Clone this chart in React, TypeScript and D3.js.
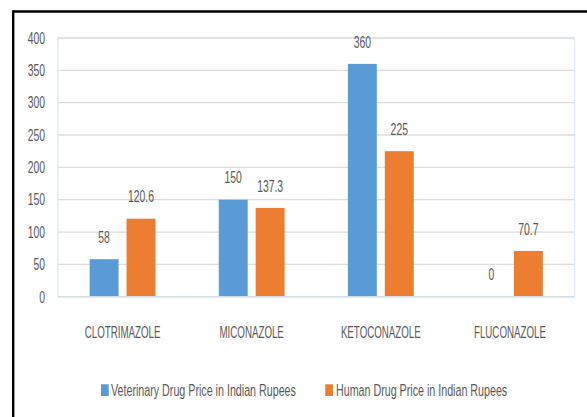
import React from "react";
import * as d3 from "d3";

const categories = ["CLOTRIMAZOLE", "MICONAZOLE", "KETOCONAZOLE", "FLUCONAZOLE"];
const seriesNames = [
  "Veterinary Drug Price in Indian Rupees",
  "Human Drug Price in Indian Rupees",
];
const veterinary = [58, 150, 360, 0];
const human = [120.6, 137.3, 225, 70.7];
const valueLabels = [
  ["58", "150", "360", "0"],
  ["120.6", "137.3", "225", "70.7"],
];
const yTicks = [0, 50, 100, 150, 200, 250, 300, 350, 400];
const colors = ["#5B9BD5", "#ED7D31"];

const W = 587;
const H = 417;
const plot = { left: 58, right: 574.5, top: 38, bottom: 296.7 };
const textColor = "#595959";
const font = "'Liberation Sans', Arial, sans-serif";

function SqText({ x, y, anchor = "middle", size = 15, sx = 0.65, children }: any) {
  return (
    <text
      transform={`translate(${x},${y}) scale(${sx},1)`}
      textAnchor={anchor}
      fontSize={size}
      fill={textColor}
      fontFamily={font}
    >
      {children}
    </text>
  );
}

export default function App() {
  const y = d3.scaleLinear().domain([0, 400]).range([plot.bottom, plot.top]);
  const x0 = d3
    .scaleBand<string>()
    .domain(categories)
    .range([plot.left, plot.right])
    .paddingInner(0.49)
    .paddingOuter(0.245);
  const x1 = d3
    .scaleBand<string>()
    .domain(seriesNames)
    .range([0, x0.bandwidth()])
    .paddingInner(0.216);
  const data = [veterinary, human];
  const catCenter = (c: string) => (x0(c) as number) + x0.bandwidth() / 2;

  return (
    <svg
      width={W}
      height={H}
      style={{ position: "absolute", left: 0, top: 0, background: "#fff" }}
    >
      {/* outer frame (top and left) */}
      <line x1={13.2} y1={11.5} x2={W} y2={11.5} stroke="#000" strokeWidth={2.4} />
      <line x1={13.2} y1={10.3} x2={13.2} y2={H} stroke="#000" strokeWidth={2.4} />

      {/* plot area border */}
      <rect
        x={plot.left}
        y={plot.top}
        width={plot.right - plot.left}
        height={plot.bottom - plot.top}
        fill="#fff"
        stroke="#E4EEF8"
        strokeWidth={1.5}
      />

      {/* gridlines */}
      {yTicks.slice(1).map((t) => (
        <line
          key={t}
          x1={plot.left}
          x2={plot.right}
          y1={y(t)}
          y2={y(t)}
          stroke="#DDDDDD"
          strokeWidth={1.3}
        />
      ))}

      {/* y tick labels */}
      {yTicks.map((t) => (
        <SqText key={t} x={45} y={y(t) + 5.8} anchor="end" size={16} sx={0.65}>
          {t}
        </SqText>
      ))}

      {/* bars */}
      {data.map((vals, si) =>
        vals.map((v, ci) => {
          const bx = (x0(categories[ci]) as number) + (x1(seriesNames[si]) as number);
          return (
            <g key={`${si}-${ci}`}>
              {v > 0 && (
                <rect
                  x={bx}
                  y={y(v)}
                  width={x1.bandwidth()}
                  height={y(0) - y(v)}
                  fill={colors[si]}
                />
              )}
              <SqText x={bx + x1.bandwidth() / 2} y={y(v) - 16.3} size={16} sx={0.65}>
                {valueLabels[si][ci]}
              </SqText>
            </g>
          );
        })
      )}

      {/* x axis line */}
      <line
        x1={plot.left}
        x2={plot.right}
        y1={plot.bottom}
        y2={plot.bottom}
        stroke="#D3DEEB"
        strokeWidth={1.5}
      />

      {/* category labels */}
      {categories.map((c) => (
        <SqText key={c} x={catCenter(c)} y={338.3} size={16.8} sx={0.58}>
          {c}
        </SqText>
      ))}

      {/* legend */}
      <rect x={101} y={384.3} width={7.7} height={11.7} fill={colors[0]} />
      <SqText x={111} y={395.7} anchor="start" size={17} sx={0.63}>
        {seriesNames[0]}
      </SqText>
      <rect x={325.3} y={384.3} width={7.7} height={11.7} fill={colors[1]} />
      <SqText x={336} y={395.7} anchor="start" size={17} sx={0.63}>
        {seriesNames[1]}
      </SqText>
    </svg>
  );
}
